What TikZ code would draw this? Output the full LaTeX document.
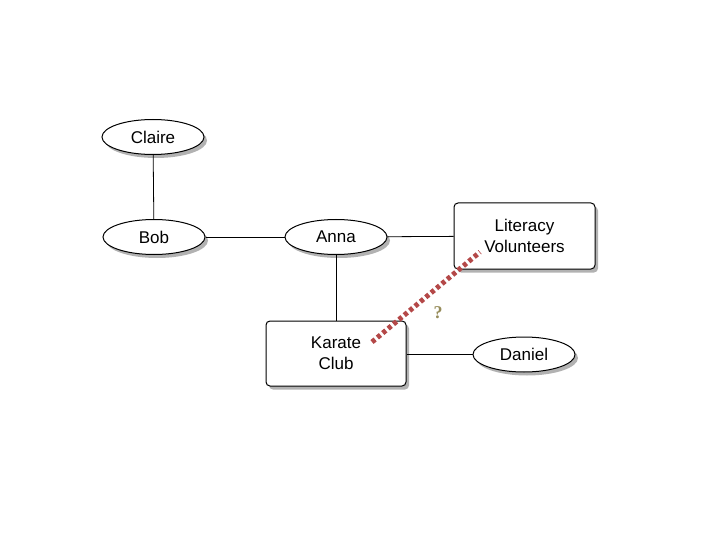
\documentclass[tikz,border=0pt]{standalone}
\usepackage{fontspec}
\setmainfont{Liberation Sans}
\usetikzlibrary{shapes.geometric,shadows}
\definecolor{dotred}{RGB}{180,72,72}
\definecolor{qolive}{RGB}{150,140,90}
\tikzset{
  base/.style={draw=black, line width=1pt, fill=white, font=\fontsize{17}{21}\selectfont,
    drop shadow={shadow xshift=3pt, shadow yshift=-3.5pt, opacity=0.3, fill=black}},
  person/.style={base, ellipse, minimum width=102pt, minimum height=35pt, inner sep=0pt},
  group/.style={base, rectangle, rounded corners=4pt, minimum width=140pt, minimum height=65pt, align=center, inner sep=0pt},
  edge/.style={draw=black, line width=0.8pt},
  maybe/.style={draw=dotred, line width=5pt, dash pattern=on 4pt off 3pt}
}
\begin{document}
\begin{tikzpicture}[x=1pt,y=-1pt]
\useasboundingbox (0,0) rectangle (720,540);
\node[person] (claire) at (153,137) {Claire};
\node[person] (bob) at (154,237) {Bob};
\node[person] (anna) at (336,237) {Anna};
\node[group, minimum width=141pt, minimum height=66pt] (lit) at (524.5,236) {Literacy\\Volunteers};
\node[group] (karate) at (336,353.5) {Karate\\Club};
\node[person] (daniel) at (524,354.5) {Daniel};
\coordinate (litend) at (480,252);
\coordinate (karend) at (372,342);
\draw[edge] (claire) -- (bob);
\draw[edge] (bob) -- (anna);
\draw[edge] (anna) -- (lit);
\draw[edge] (anna) -- (karate);
\draw[edge] (karate.east |- daniel) -- (daniel);
\draw[maybe] (karend) -- (litend);
\node[text=qolive, font=\fontspec{Liberation Serif}\bfseries\fontsize{18}{20}\selectfont] (q) at (438,313) {?};
\end{tikzpicture}
\end{document}
